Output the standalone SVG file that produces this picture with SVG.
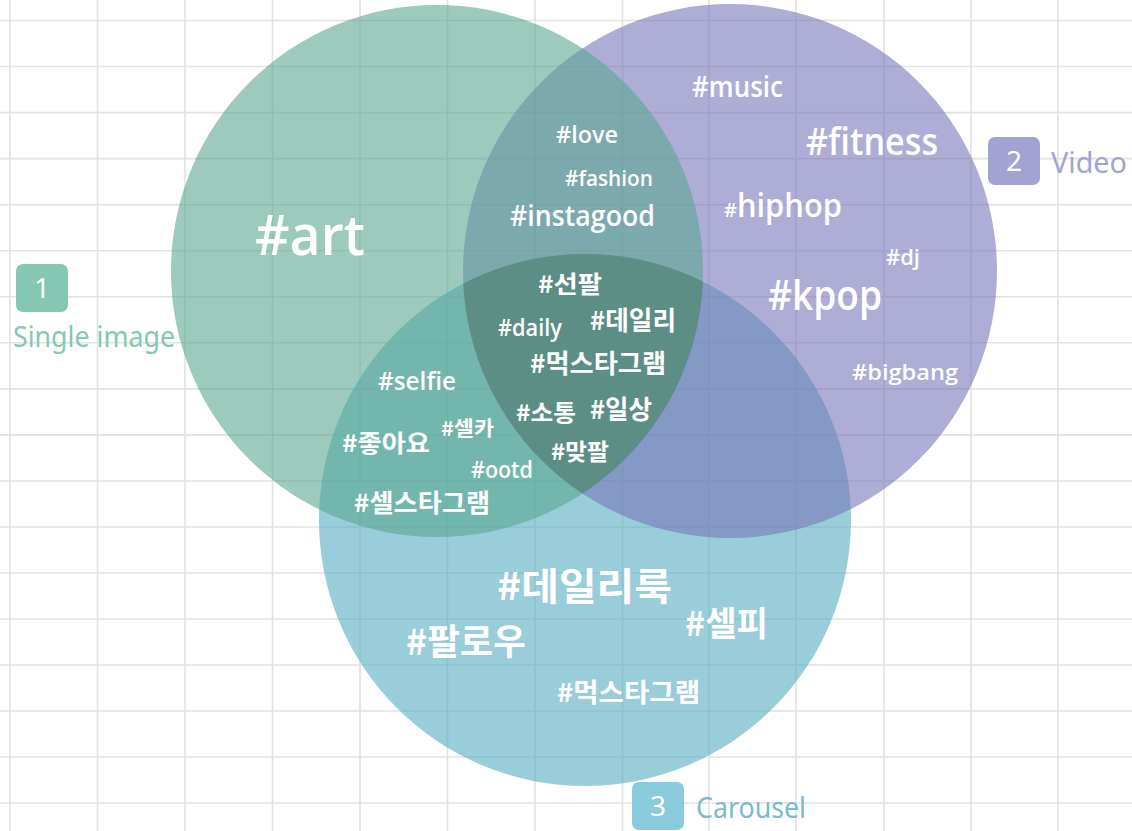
<svg xmlns="http://www.w3.org/2000/svg" width="1132" height="831" viewBox="0 0 1132 831">
<style>
.grid line{stroke:#e2e2e2;stroke-width:1.6}
.tag{fill:#ffffff;font-family:"Open Sans","Noto Sans",sans-serif;font-weight:600}
.kr{fill:#ffffff;font-family:"Noto Sans CJK KR",sans-serif;font-weight:700}
.lbl{font-family:"Noto Sans","Noto Sans CJK KR",sans-serif;font-weight:400}
.num{fill:#ffffff;font-family:"Noto Sans",sans-serif;font-size:28px;text-anchor:middle}
</style>
<defs>
<clipPath id="cg"><circle cx="437" cy="271" r="266"/></clipPath>
<clipPath id="cp"><circle cx="730" cy="271" r="267"/></clipPath>
</defs>
<rect width="1132" height="831" fill="#ffffff"/>
<g class="grid">
<line x1="10" y1="0" x2="10" y2="831"/><line x1="97.5" y1="0" x2="97.5" y2="831"/><line x1="185" y1="0" x2="185" y2="831"/><line x1="272.5" y1="0" x2="272.5" y2="831"/><line x1="360" y1="0" x2="360" y2="831"/><line x1="447.5" y1="0" x2="447.5" y2="831"/><line x1="535" y1="0" x2="535" y2="831"/><line x1="622.5" y1="0" x2="622.5" y2="831"/><line x1="709" y1="0" x2="709" y2="831"/><line x1="796" y1="0" x2="796" y2="831"/><line x1="884" y1="0" x2="884" y2="831"/><line x1="971" y1="0" x2="971" y2="831"/><line x1="1058" y1="0" x2="1058" y2="831"/>
<line x1="0" y1="20.5" x2="1132" y2="20.5"/><line x1="0" y1="66.5" x2="1132" y2="66.5"/><line x1="0" y1="112.6" x2="1132" y2="112.6"/><line x1="0" y1="158.6" x2="1132" y2="158.6"/><line x1="0" y1="204.7" x2="1132" y2="204.7"/><line x1="0" y1="250.7" x2="1132" y2="250.7"/><line x1="0" y1="296.8" x2="1132" y2="296.8"/><line x1="0" y1="342.8" x2="1132" y2="342.8"/><line x1="0" y1="388.9" x2="1132" y2="388.9"/><line x1="0" y1="434.9" x2="1132" y2="434.9"/><line x1="0" y1="481" x2="1132" y2="481"/><line x1="0" y1="527" x2="1132" y2="527"/><line x1="0" y1="573" x2="1132" y2="573"/><line x1="0" y1="619" x2="1132" y2="619"/><line x1="0" y1="665" x2="1132" y2="665"/><line x1="0" y1="711" x2="1132" y2="711"/><line x1="0" y1="757" x2="1132" y2="757"/><line x1="0" y1="803" x2="1132" y2="803"/>
</g>
<g id="carousel">
<circle cx="585" cy="520" r="266" fill="#55acc1" fill-opacity="0.6"/>
</g>
<g id="video">
<circle cx="730" cy="271" r="267" fill="#7876bb" fill-opacity="0.6"/>
</g>
<g id="single-image">
<circle cx="437" cy="271" r="266" fill="#5aa791" fill-opacity="0.6"/>
</g>
<g id="center">
<g clip-path="url(#cg)"><g clip-path="url(#cp)"><circle cx="585" cy="520" r="266" fill="#3c643c" fill-opacity="0.3"/></g></g>
</g>
<g id="legend-1">
<rect x="16" y="264" width="52" height="48" rx="7" fill="#86c7b3"/>
<text class="num" x="42" y="298">1</text>
<text class="lbl" x="13" y="347" font-size="29" fill="#86c7b3" textLength="162" lengthAdjust="spacingAndGlyphs">Single image</text>
</g>
<g id="legend-2">
<rect x="988" y="137" width="52" height="48" rx="7" fill="#a3a3d3"/>
<text class="num" x="1014" y="171">2</text>
<text class="lbl" x="1051" y="173" font-size="29" fill="#a3a3d3" textLength="76" lengthAdjust="spacingAndGlyphs">Video</text>
</g>
<g id="legend-3">
<rect x="632" y="782" width="52" height="48" rx="7" fill="#89cadc"/>
<text class="num" x="658" y="816">3</text>
<text class="lbl" x="696" y="818" font-size="29" fill="#7ab9cf" textLength="110" lengthAdjust="spacingAndGlyphs">Carousel</text>
</g>
<g id="tags">
<text class="tag" x="255" y="255" font-size="56" font-weight="400" textLength="110" lengthAdjust="spacingAndGlyphs">#art</text>
<text class="tag" x="692" y="97" font-size="28" textLength="91" lengthAdjust="spacingAndGlyphs">#music</text>
<text class="tag" x="806" y="155" font-size="38" textLength="132" lengthAdjust="spacingAndGlyphs">#fitness</text>
<text class="tag" x="724" y="217" font-weight="400"><tspan font-size="20">#</tspan><tspan font-size="33" textLength="105" lengthAdjust="spacingAndGlyphs">hiphop</tspan></text>
<text class="tag" x="886" y="265" font-size="22" font-weight="400" textLength="34" lengthAdjust="spacingAndGlyphs">#dj</text>
<text class="tag" x="768" y="310" font-size="42" textLength="114" lengthAdjust="spacingAndGlyphs">#kpop</text>
<text class="tag" x="852" y="380" font-size="22" font-weight="400" textLength="106" lengthAdjust="spacingAndGlyphs">#bigbang</text>
<text class="tag" x="556" y="143" font-size="24" textLength="62" lengthAdjust="spacingAndGlyphs">#love</text>
<text class="tag" x="565" y="186" font-size="22" font-weight="400" textLength="88" lengthAdjust="spacingAndGlyphs">#fashion</text>
<text class="tag" x="510" y="226" font-size="28" textLength="145" lengthAdjust="spacingAndGlyphs">#instagood</text>
<text class="kr" x="538" y="293" font-size="24" textLength="64" lengthAdjust="spacingAndGlyphs">#선팔</text>
<text class="tag" x="498" y="336" font-size="24" textLength="64" lengthAdjust="spacingAndGlyphs">#daily</text>
<text class="kr" x="590" y="330" font-size="26" textLength="86" lengthAdjust="spacingAndGlyphs">#데일리</text>
<text class="kr" x="530" y="373" font-size="26" textLength="136" lengthAdjust="spacingAndGlyphs">#먹스타그램</text>
<text class="kr" x="516" y="421" font-size="23" textLength="60" lengthAdjust="spacingAndGlyphs">#소통</text>
<text class="kr" x="590" y="419" font-size="26" textLength="62" lengthAdjust="spacingAndGlyphs">#일상</text>
<text class="kr" x="551" y="460" font-size="23" textLength="58" lengthAdjust="spacingAndGlyphs">#맞팔</text>
<text class="tag" x="378" y="390" font-size="25" font-weight="700" textLength="78" lengthAdjust="spacingAndGlyphs">#selfie</text>
<text class="kr" x="441" y="436" font-size="20" textLength="53" lengthAdjust="spacingAndGlyphs">#셀카</text>
<text class="kr" x="342" y="452" font-size="24" textLength="88" lengthAdjust="spacingAndGlyphs">#좋아요</text>
<text class="tag" x="471" y="478" font-size="23" font-weight="400" textLength="62" lengthAdjust="spacingAndGlyphs">#ootd</text>
<text class="kr" x="354" y="512" font-size="25" textLength="136" lengthAdjust="spacingAndGlyphs">#셀스타그램</text>
<text class="kr" x="497" y="600" font-size="38" textLength="175" lengthAdjust="spacingAndGlyphs">#데일리룩</text>
<text class="kr" x="685" y="636" font-size="34" textLength="83" lengthAdjust="spacingAndGlyphs">#셀피</text>
<text class="kr" x="406" y="655" font-size="36" textLength="120" lengthAdjust="spacingAndGlyphs">#팔로우</text>
<text class="kr" x="557" y="702" font-size="26" textLength="143" lengthAdjust="spacingAndGlyphs">#먹스타그램</text>
</g>
</svg>
